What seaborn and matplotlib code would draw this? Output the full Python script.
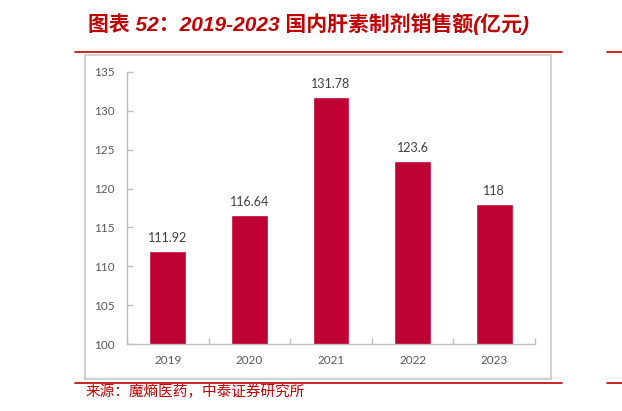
import matplotlib
matplotlib.use("Agg")
import matplotlib.pyplot as plt
from matplotlib.patches import Rectangle
from matplotlib.lines import Line2D
import seaborn as sns
import pandas as pd

# data
years = ["2019", "2020", "2021", "2022", "2023"]
sales = [111.92, 116.64, 131.78, 123.6, 118]
value_labels = ["111.92", "116.64", "131.78", "123.6", "118"]
y_ticks = [100, 105, 110, 115, 120, 125, 130, 135]

title = "图表 52：2019-2023 国内肝素制剂销售额(亿元)"
source = "来源：魔熵医药，中泰证券研究所"

RED = "#C00000"
BAR = "#BE0032"
GRAY = "#BFBFBF"

sns.set_theme(style="white")
plt.rcParams["font.family"] = ["Lato", "Noto Sans CJK SC", "DejaVu Sans"]

df = pd.DataFrame({"year": years, "sales": sales})

fig = plt.figure(figsize=(6.22, 4.11), dpi=100)
ax = fig.add_axes([0.2042, 0.163, 0.656, 0.662])

sns.barplot(data=df, x="year", y="sales", color=BAR, saturation=1,
            width=0.45, ax=ax)

ax.set_ylim(100, 135)
ax.set_xlim(-0.5, len(years) - 0.5)
ax.set_yticks(y_ticks)
ax.set_xlabel("")
ax.set_ylabel("")

# spines
for side in ["top", "right"]:
    ax.spines[side].set_visible(False)
for side in ["left", "bottom"]:
    ax.spines[side].set_color(GRAY)
    ax.spines[side].set_linewidth(1.0)

# ticks
ax.tick_params(axis="y", direction="in", length=4, width=1, color=GRAY,
               labelsize=8.5, labelcolor="#595959", pad=9, left=True)
ax.tick_params(axis="x", which="major", length=0, labelsize=8.5,
               labelcolor="#595959", pad=8)
ax.set_xticks([i - 0.5 for i in range(len(years) + 1)], minor=True)
ax.tick_params(axis="x", which="minor", direction="in", length=4, width=1,
               color=GRAY, bottom=True)

# value labels
ax.bar_label(ax.containers[0], labels=value_labels, padding=5, fontsize=9,
             color="#404040")

# outer frame and red rules
fig.add_artist(Rectangle((0.1367, 0.0779), 0.749, 0.788, transform=fig.transFigure,
                         fill=False, edgecolor="#C8C8C8", linewidth=1.2))
for y in [0.874, 0.068]:
    fig.add_artist(Line2D([0.1206, 0.9035], [y, y], transform=fig.transFigure,
                          color=RED, linewidth=1.2))
    fig.add_artist(Line2D([0.976, 1.0], [y, y], transform=fig.transFigure,
                          color=RED, linewidth=1.2))

fig.text(0.141, 0.942, title, color=RED, fontsize=15, fontweight="bold",
         fontstyle="italic", va="center", ha="left",
         family=["Liberation Sans", "Noto Sans CJK SC"])
fig.text(0.138, 0.046, source, color=RED, fontsize=10.5, va="center", ha="left",
         family=["Noto Sans CJK SC", "DejaVu Sans"])

fig.savefig("out.png", dpi=100)
